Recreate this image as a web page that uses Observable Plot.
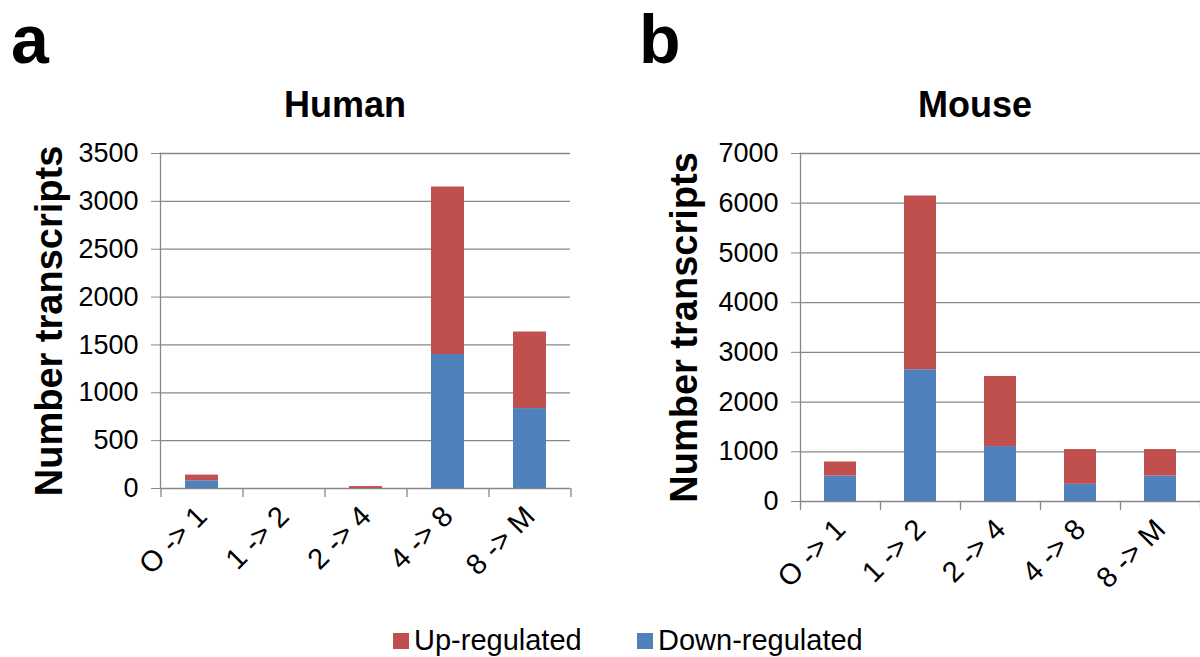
<!DOCTYPE html>
<html>
<head>
<meta charset="utf-8">
<script src="https://cdn.jsdelivr.net/npm/d3@7"></script>
<script src="https://cdn.jsdelivr.net/npm/@observablehq/plot@0.6"></script>
<style>
  html, body { margin: 0; padding: 0; background: #fff; }
  #root { position: relative; width: 1200px; height: 657px; overflow: hidden; font-family: "Liberation Sans", Arial, sans-serif; color: #000; }
  .abs { position: absolute; }
  .letter { font-weight: bold; font-size: 68px; line-height: normal; }
  .title { font-weight: bold; font-size: 36px; line-height: 1; transform: translateX(-50%); white-space: nowrap; }
  .legend { font-size: 29px; line-height: 1; white-space: nowrap; }
  .item { position: absolute; display: flex; align-items: center; }
  .sw { display: inline-block; width: 16px; height: 16px; margin-right: 5px; }
  svg { overflow: visible; }
</style>
</head>
<body>
<div id="root"></div>
<script>
const stages = ["O -> 1", "1 -> 2", "2 -> 4", "4 -> 8", "8 -> M"];
const seriesNames = ["Down-regulated", "Up-regulated"];
const humanDown = [80, 0, 0, 1400, 835];
const humanUp = [60, 0, 20, 1750, 800];
const mouseDown = [510, 2650, 1105, 345, 510];
const mouseUp = [285, 3495, 1410, 700, 535];
const humanTicks = [0, 500, 1000, 1500, 2000, 2500, 3000, 3500];
const mouseTicks = [0, 1000, 2000, 3000, 4000, 5000, 6000, 7000];
const colors = {"Up-regulated": "#C0504D", "Down-regulated": "#4F81BD"};

function rows(down, up) {
  const out = [];
  stages.forEach((s, i) => {
    out.push({stage: s, type: seriesNames[0], value: down[i]});
    out.push({stage: s, type: seriesNames[1], value: up[i]});
  });
  return out;
}

const GRID = "#878787";

function panel({data, ticks, ymax, marginLeft, marginRight, marginTop, marginBottom, labelDx, frameH, step}) {
  return Plot.plot({
    width: 600,
    height: 657,
    marginLeft, marginRight, marginTop, marginBottom,
    style: {fontFamily: "'Liberation Sans', Arial, sans-serif", fontSize: "27px", color: "#000", background: "transparent", overflow: "visible"},
    x: {domain: stages, paddingInner: 0.6, paddingOuter: 0.3, label: null},
    y: {domain: [0, ymax], label: null},
    color: {domain: ["Up-regulated", "Down-regulated"], range: [colors["Up-regulated"], colors["Down-regulated"]]},
    marks: [
      Plot.ruleY(ticks, {stroke: GRID, strokeWidth: 1.3}),
      Plot.ruleX(stages, {x: d => d, dx: -step / 2, stroke: GRID, strokeWidth: 1.3, insetTop: frameH, insetBottom: -9}),
      Plot.ruleX([stages[stages.length - 1]], {x: d => d, dx: step / 2, stroke: GRID, strokeWidth: 1.3, insetTop: frameH, insetBottom: -9}),
      Plot.frame({anchor: "left", stroke: GRID, strokeWidth: 1.3}),
      Plot.barY(data, {x: "stage", y: "value", fill: "type", order: seriesNames}),
      Plot.axisY({ticks, tickSize: 9, tickPadding: 13, stroke: GRID, fill: "#000", tickFormat: d => String(d), fontSize: 27}),
      Plot.axisX({tickSize: 0, tickPadding: 23, tickRotate: -45, fill: "#000", fontSize: 29}),
      Plot.text(["Number transcripts"], {frameAnchor: "left", dx: labelDx, rotate: -90, fontSize: 38, fontWeight: "bold", textAnchor: "middle", fill: "#000"})
    ]
  });
}

const root = document.getElementById("root");

const human = panel({
  data: rows(humanDown, humanUp), ticks: humanTicks, ymax: 3500,
  marginLeft: 160, marginRight: 30, marginTop: 153, marginBottom: 657 - 488,
  labelDx: -111, frameH: 488 - 153, step: 82
});
human.style.position = "absolute"; human.style.left = "0px"; human.style.top = "0px";
root.appendChild(human);

const mouse = panel({
  data: rows(mouseDown, mouseUp), ticks: mouseTicks, ymax: 7000,
  marginLeft: 200, marginRight: 0, marginTop: 153, marginBottom: 657 - 501,
  labelDx: -116, frameH: 501 - 153, step: 80
});
mouse.style.position = "absolute"; mouse.style.left = "600px"; mouse.style.top = "0px";
root.appendChild(mouse);

function addDiv(cls, text, left, top) {
  const d = document.createElement("div");
  d.className = "abs " + cls;
  d.textContent = text;
  d.style.left = left + "px";
  d.style.top = top + "px";
  root.appendChild(d);
  return d;
}
addDiv("letter", "a", 11, 0);
addDiv("letter", "b", 639, 0);
addDiv("title", "Human", 345, 87);
addDiv("title", "Mouse", 975, 87);

const legend = document.createElement("div");
legend.className = "abs legend";
legend.style.left = "0px";
legend.style.top = "626px";
legend.style.width = "1200px";
legend.style.height = "31px";
[["Up-regulated", 393], ["Down-regulated", 637]].forEach(([name, x]) => {
  const item = document.createElement("span");
  item.className = "item";
  item.style.left = x + "px";
  item.style.top = "0px";
  const sw = document.createElement("span");
  sw.className = "sw";
  sw.style.background = colors[name];
  item.appendChild(sw);
  item.appendChild(document.createTextNode(name));
  legend.appendChild(item);
});
root.appendChild(legend);
</script>
</body>
</html>
